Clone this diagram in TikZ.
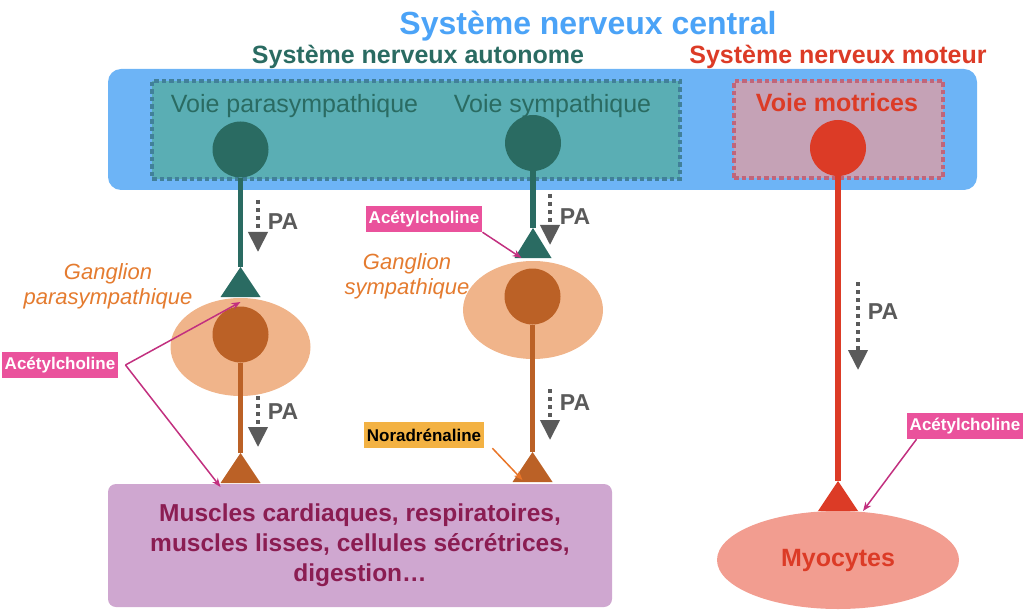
\documentclass[tikz,border=0pt]{standalone}
\usepackage{fontspec}
\setmainfont{Liberation Sans}
\usetikzlibrary{shapes.geometric,arrows.meta,positioning}

\definecolor{cnsblue}{HTML}{4BA3F7}
\definecolor{boxblue}{HTML}{6DB4F6}
\definecolor{autoteal}{HTML}{2A6B62}
\definecolor{tealfill}{HTML}{5AAEB4}
\definecolor{tealdots}{HTML}{41809A}
\definecolor{motred}{HTML}{DC3B26}
\definecolor{pinkfill}{HTML}{C5A2B6}
\definecolor{pinkdots}{HTML}{C0657A}
\definecolor{gangfill}{HTML}{F0B48A}
\definecolor{gangsoma}{HTML}{BB6126}
\definecolor{gangtext}{HTML}{E47B2F}
\definecolor{achbox}{HTML}{EA529C}
\definecolor{acharrow}{HTML}{C2307F}
\definecolor{nabox}{HTML}{F3B243}
\definecolor{naarrow}{HTML}{E97528}
\definecolor{effbox}{HTML}{CFA7D0}
\definecolor{efftext}{HTML}{8B1D52}
\definecolor{myofill}{HTML}{F29D90}
\definecolor{pagray}{HTML}{5A5A5A}

\tikzset{
	soma/.style={circle, minimum size=56pt, inner sep=0pt},
	synapse/.style={isosceles triangle, isosceles triangle stretches, shape border rotate=90, minimum width=40pt, minimum height=30pt, inner sep=0pt, outer sep=0pt, anchor=lower side},
	axon/.style={line width=5.5pt},
	ganglion/.style={ellipse, fill=gangfill, minimum width=140pt, minimum height=98pt, inner sep=0pt},
	pathway/.style={dash pattern=on 4.5pt off 3pt, line width=4.5pt},
	systitle/.style={font=\fontsize{#1}{#1}\selectfont\bfseries, inner sep=0pt},
	voie/.style={font=\fontsize{25}{27}\selectfont, inner sep=0pt},
	gangname/.style={font=\fontsize{22}{25}\selectfont\itshape, text=gangtext, align=center, inner sep=0pt},
	palabel/.style={font=\fontsize{23}{25}\selectfont\bfseries, text=pagray, inner sep=0pt},
	paarrow/.style={pagray, line width=4pt, dash pattern=on 4pt off 4pt, -{Triangle[length=20pt,width=19pt]}},
	nt/.style={font=\fontsize{17}{19}\selectfont\bfseries, inner xsep=3pt, minimum height=26pt, minimum width=116pt},
	release/.style={line width=1.5pt, -{Stealth[length=9pt,width=7pt]}},
}

\begin{document}
\begin{tikzpicture}[x=1pt, y=-1pt]
			\useasboundingbox (0,0) rectangle (1024,612);
			
			% Define nodes
			\node[fill=boxblue, rounded corners=13pt, minimum width=869pt, minimum height=121pt] (cnsbox) at (542.5,129.5) {};
			\node[fill=tealfill, draw=tealdots, pathway, minimum width=528pt, minimum height=98pt] (autobox) at (416,130) {};
			\node[fill=pinkfill, draw=pinkdots, pathway, minimum width=209pt, minimum height=97pt] (motbox) at (838.5,129.5) {};
			
			\node[systitle=32, text=cnsblue]  (cns) at (588,26.5) {Système nerveux central};
			\node[systitle=25, text=autoteal] (sna) at (418,56.5) {Système nerveux autonome};
			\node[systitle=25, text=motred]   (snm) at (838,56.5) {Système nerveux moteur};
			
			\node[voie, text=autoteal] (vpara) at (294.5,106.5) {Voie parasympathique};
			\node[voie, text=autoteal] (vsymp) at (552.5,106.5) {Voie sympathique};
			\node[systitle=25, text=motred] (vmot) at (837,103) {Voie motrices};
			
			\node[soma, fill=autoteal] (psoma) at (240.5,149.5) {};
			\node[soma, fill=autoteal] (ssoma) at (533,143) {};
			\node[soma, fill=motred]   (msoma) at (838,148) {};
			
			\node[synapse, fill=autoteal]                     (ptri) at (240.5,297) {};
			\node[synapse, fill=autoteal, minimum width=37pt] (stri) at (533,258) {};
			
			\node[ganglion] (pgang) at (240.5,347) {};
			\node[ganglion] (sgang) at (533,310) {};
			\node[soma, fill=gangsoma] (posoma) at (240.5,334.5) {};
			\node[soma, fill=gangsoma] (sosoma) at (532.5,296.5) {};
			\node[gangname] (pgname) at (108,286) {Ganglion\\parasympathique};
			\node[gangname] (sgname) at (407,276.5) {Ganglion\\sympathique};
			
			\node[synapse, fill=gangsoma] (potri) at (240.5,483) {};
			\node[synapse, fill=gangsoma] (sotri) at (532.5,482) {};
			\node[synapse, fill=motred]   (mtri)  at (838,511) {};
			
			\node[fill=effbox, rounded corners=8pt, minimum width=504pt, minimum height=123pt, align=center, text=efftext, font=\fontsize{24.5}{30}\selectfont\bfseries] (eff) at (360,545.5) {Muscles cardiaques, respiratoires,\\muscles lisses, cellules sécrétrices,\\digestion…};
			\node[ellipse, fill=myofill, minimum width=242pt, minimum height=98pt, text=motred, font=\fontsize{25}{27}\selectfont\bfseries] (myo) at (838,560) {Myocytes};
			
			\node[nt, fill=achbox, text=white] (achpara) at (60,365) {Acétylcholine};
			\node[nt, fill=achbox, text=white] (achsymp) at (424,219) {Acétylcholine};
			\node[nt, fill=achbox, text=white] (achmot)  at (965,426) {Acétylcholine};
			\node[nt, fill=nabox, text=black]  (nasymp)  at (424,435) {Noradrénaline};
			
			% Connect the nodes
			\draw[axon, autoteal] (psoma) -- (ptri.apex);
			\draw[axon, autoteal] (ssoma) -- (stri.apex);
			\draw[axon, gangsoma] (posoma) -- (potri.apex);
			\draw[axon, gangsoma] (sosoma) -- (sotri.apex);
			\draw[axon, motred]   (msoma) -- (mtri.apex);
			
			% Action potentials
			\foreach \n/\x/\ya/\yb/\yl in {1/258/200/252/222, 2/258/396/447/412, 3/550/194/245/217, 4/550/389/440/403, 5/858/282/370/312} {
				\coordinate (pa\n a) at (\x,\ya);
				\coordinate (pa\n b) at (\x,\yb);
				\draw[paarrow] (pa\n a) -- (pa\n b);
				\node[palabel] (pa\n) at (\x+25,\yl) {PA};
			}
			
			% Neurotransmitters
			\coordinate (achfork) at ([xshift=7pt]achpara.east);
			\draw[release, acharrow] (achfork) -- ([yshift=-5pt]ptri.lower side);
			\draw[release, acharrow] (achfork) -- ([yshift=-4pt]potri.left corner);
			\draw[release, acharrow] (achsymp.south east) -- ([xshift=7pt]stri.left corner);
			\draw[release, acharrow] ([xshift=10pt]achmot.south west) -- ([xshift=5pt]mtri.right corner);
			\draw[release, naarrow] ([xshift=8pt]nasymp.south east) -- ([xshift=-10pt,yshift=2pt]sotri.lower side);
			
\end{tikzpicture}
\end{document}
